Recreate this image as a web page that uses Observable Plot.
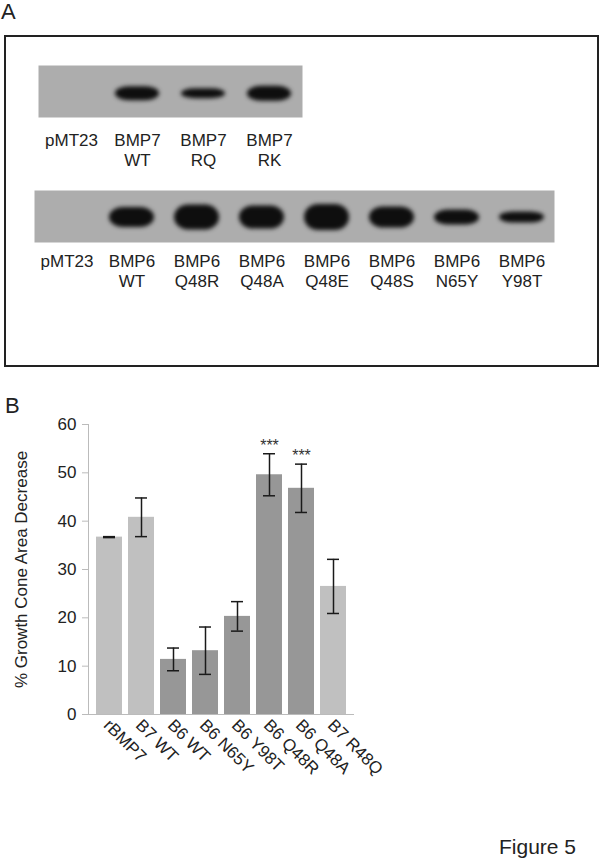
<!DOCTYPE html>
<html><head><meta charset="utf-8">
<script src="https://cdn.jsdelivr.net/npm/d3@7"></script>
<script src="https://cdn.jsdelivr.net/npm/@observablehq/plot@0.6"></script>
<style>
body{margin:0;background:#fff;}
#fig{position:relative;width:600px;height:859px;font-family:"Liberation Sans",Arial,sans-serif;color:#222;overflow:hidden}
.abs{position:absolute}
.panel{font-size:22px;line-height:1}
#box{position:absolute;left:4px;top:35px;width:591px;height:328px;border:2px solid #222}
</style></head><body>
<div id="fig">
 <div class="abs panel" style="left:1px;top:1px">A</div>
 <div id="box"></div>
 <div id="blot1" class="abs" style="left:38px;top:65px"></div>
 <div id="blot2" class="abs" style="left:34px;top:190px"></div>
 <div class="abs panel" style="left:5px;top:395px">B</div>
 <div id="chartB" class="abs" style="left:0;top:410px"></div>
 <div class="abs" style="left:499px;top:836px;font-size:21px;line-height:1">Figure 5</div>
</div>
<script>
// ---- Panel A: western blot lanes and estimated band signal ----
const blot1Lanes = ["pMT23", "BMP7\nWT", "BMP7\nRQ", "BMP7\nRK"];
const blot1Signal = [0, 14, 10, 15];
const blot2Lanes = ["pMT23", "BMP6\nWT", "BMP6\nQ48R", "BMP6\nQ48A", "BMP6\nQ48E", "BMP6\nQ48S", "BMP6\nN65Y", "BMP6\nY98T"];
const blot2Signal = [0, 20, 25, 23, 26, 21, 15, 11];

// ---- Panel B: growth cone area decrease ----
const conditions = ["rBMP7", "B7 WT", "B6 WT", "B6 N65Y", "B6 Y98T", "B6 Q48R", "B6 Q48A", "B7 R48Q"];
const decrease = [36.7, 40.8, 11.4, 13.2, 20.3, 49.6, 46.8, 26.5];
const errors = [0.1, 4.0, 2.35, 4.9, 3.05, 4.35, 5.0, 5.6];
const protein = ["BMP7", "BMP7", "BMP6", "BMP6", "BMP6", "BMP6", "BMP6", "BMP7"];
const significance = ["", "", "", "", "", "***", "***", ""];
const yTicks = [0, 10, 20, 30, 40, 50, 60];

const FONT = '"Liberation Sans", Arial, sans-serif';

function blot(lanes, signal, {width, height, yDomain, labelGap, inset}) {
  const data = lanes.map((lane, i) => ({lane, signal: signal[i]}));
  const svg = Plot.plot({
    width, height: height + 62,
    marginTop: 0, marginLeft: 0, marginRight: 0, marginBottom: 62,
    x: {domain: lanes, padding: 0, axis: null},
    y: {domain: yDomain, axis: null},
    style: {fontFamily: FONT, fontSize: "17px", color: "#222", background: "transparent", overflow: "visible"},
    marks: [
      Plot.frame({fill: "#adadad", stroke: "none"}),
      Plot.barY(data.filter(d => d.signal > 0), {
        x: "lane", y1: d => -d.signal / 2, y2: d => d.signal / 2,
        insetLeft: inset, insetRight: inset, rx: 14, fill: "#0e0e0e", ariaLabel: "bands"
      }),
      Plot.text(data, {x: "lane", text: "lane", frameAnchor: "bottom", lineAnchor: "top",
        dy: labelGap, fontSize: 17, lineHeight: 1.15, fill: "#222"})
    ]
  });
  svg.querySelectorAll('g[aria-label="bands"] rect, g[fill="#0e0e0e"] rect').forEach(r => {
    r.style.filter = "blur(2px)";
  });
  return svg;
}

document.getElementById("blot1").appendChild(
  blot(blot1Lanes, blot1Signal, {width: 264, height: 52, yDomain: [-23.7, 28.3], labelGap: 15, inset: 11}));
document.getElementById("blot2").appendChild(
  blot(blot2Lanes, blot2Signal, {width: 520, height: 52, yDomain: [-25, 27], labelGap: 11, inset: 10}));

const bars = conditions.map((c, i) => ({condition: c, value: decrease[i], err: errors[i], protein: protein[i], sig: significance[i]}));
const ERR = "#1a1a1a";
const chartB = Plot.plot({
  width: 600, height: 384,
  marginTop: 14, marginBottom: 80, marginLeft: 88, marginRight: 246,
  style: {fontFamily: FONT, fontSize: "17px", color: "#222", background: "transparent", overflow: "visible"},
  x: {domain: conditions, paddingInner: 0.19, paddingOuter: 0.2},
  y: {domain: [0, 60]},
  color: {domain: ["BMP7", "BMP6"], range: ["#c0c0c0", "#979797"]},
  marks: [
    Plot.barY(bars, {x: "condition", y: "value", fill: "protein"}),
    Plot.ruleX(bars, {x: "condition", y1: d => d.value - d.err, y2: d => d.value + d.err, stroke: ERR, strokeWidth: 1.5}),
    Plot.tickY(bars, {x: "condition", y: d => d.value + d.err, insetLeft: 7, insetRight: 7, stroke: ERR, strokeWidth: 1.5}),
    Plot.tickY(bars, {x: "condition", y: d => d.value - d.err, insetLeft: 7, insetRight: 7, stroke: ERR, strokeWidth: 1.5}),
    Plot.text(bars.filter(d => d.sig), {x: "condition", y: d => d.value + d.err, text: "sig", lineAnchor: "bottom", dy: -3, fontSize: 16, fill: "#333"}),
    Plot.ruleY([0], {stroke: "#bbb"}),
    Plot.frame({anchor: "left", stroke: "#bbb"}),
    Plot.axisY({ticks: yTicks, tickSize: 6, tickPadding: 6, stroke: "#bbb", fill: "#222",
      label: "% Growth Cone Area Decrease", labelAnchor: "center", labelOffset: 74, labelArrow: "none"}),
    Plot.axisX({tickSize: 0, tickRotate: 45, tickPadding: 8, dx: -3, fill: "#222", label: null})
  ]
});
document.getElementById("chartB").appendChild(chartB);
</script>
</body></html>
